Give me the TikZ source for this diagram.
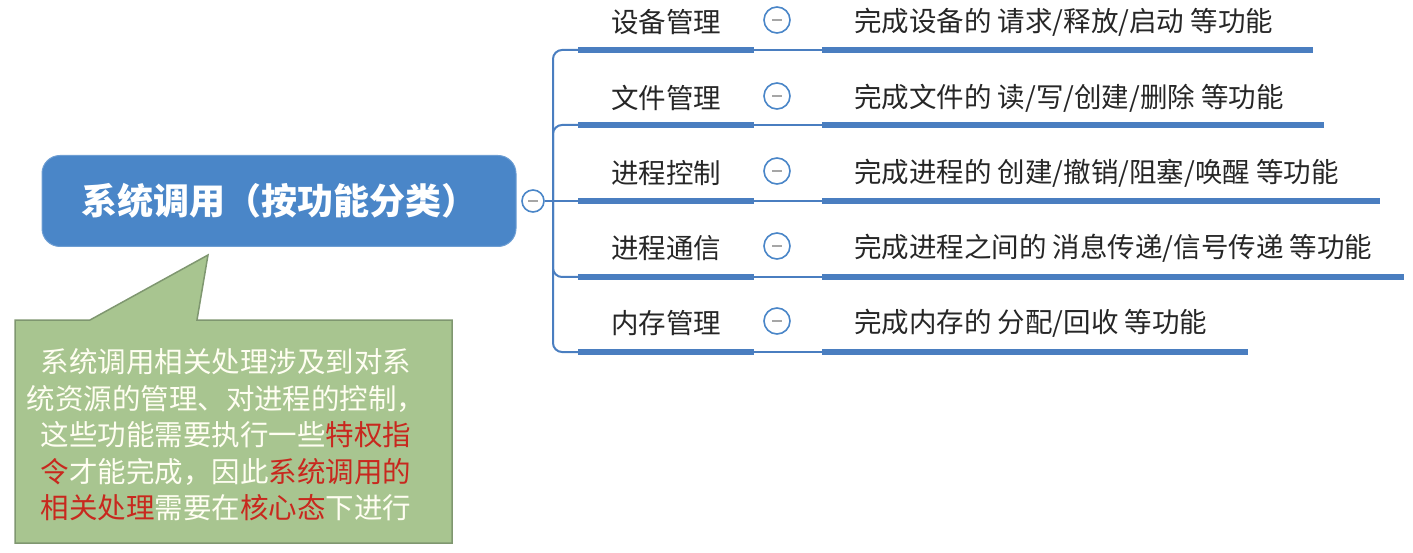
\documentclass[tikz,border=0pt]{standalone}
\usepackage{fontspec}
\usepackage{tikz}
\newfontfamily\cjk{Noto Sans CJK SC}
\definecolor{mapblue}{HTML}{4A86C8}
\definecolor{linkblue}{HTML}{4A7EC0}
\definecolor{notegreen}{HTML}{A8C590}
\definecolor{noteedge}{HTML}{7F9770}
\definecolor{notered}{HTML}{C8281E}
\newcommand{\hot}[1]{\textcolor{notered}{#1}}

\begin{document}
\begin{tikzpicture}[x=1pt,y=-1pt]
\tikzstyle{root}=[draw=mapblue!80!white, line width=1pt, fill=mapblue, rounded corners=18pt, minimum width=474pt, minimum height=91pt, text=white, font=\cjk\bfseries\fontsize{36}{40}\selectfont]
\tikzstyle{fold}=[circle, draw=mapblue, line width=1.6pt, fill=white, inner sep=0pt, minimum size=26pt, path picture={\draw[gray!70, line width=1.8pt] ([xshift=-5pt]path picture bounding box.center) -- ([xshift=5pt]path picture bounding box.center);}]
\tikzstyle{topic}=[anchor=west, inner sep=0pt, text=black!85, font=\cjk\fontsize{27.5}{30}\selectfont]
\tikzstyle{branch}=[draw=linkblue, line width=2pt]
\tikzstyle{underline}=[draw=linkblue, line width=6pt]
\useasboundingbox (0,0) rectangle (1413,553);

% root and its fold button
\node[root] (sys) at (279,201) {系统调用（按功能分类）};
\node[fold, minimum size=22pt] (sysfold) at (533,201) {};
\coordinate (hub) at (553,201);

% branch lines
\coordinate (b1) at (578,50);  \coordinate (k1) at (754,50);  \coordinate (s1) at (822,50);  \coordinate (e1) at (1313,50);
\coordinate (b2) at (578,125); \coordinate (k2) at (754,125); \coordinate (s2) at (822,125); \coordinate (e2) at (1324,125);
\coordinate (b3) at (578,201); \coordinate (k3) at (754,201); \coordinate (s3) at (822,201); \coordinate (e3) at (1380,201);
\coordinate (b4) at (578,277); \coordinate (k4) at (754,277); \coordinate (s4) at (822,277); \coordinate (e4) at (1404,277);
\coordinate (b5) at (578,352); \coordinate (k5) at (754,352); \coordinate (s5) at (822,352); \coordinate (e5) at (1248,352);

\draw[branch] (sysfold) -- (hub);
\draw[branch, rounded corners=9pt] (hub) |- (b1);
\draw[branch, rounded corners=9pt] (hub) |- (b2);
\draw[branch] (hub) -- (b3);
\draw[branch, rounded corners=9pt] (hub) |- (b4);
\draw[branch, rounded corners=9pt] (hub) |- (b5);

\draw[underline] (b1) -- (k1); \draw[branch] (k1) -- (s1); \draw[underline] (s1) -- (e1);
\draw[underline] (b2) -- (k2); \draw[branch] (k2) -- (s2); \draw[underline] (s2) -- (e2);
\draw[underline] (b3) -- (k3); \draw[branch] (k3) -- (s3); \draw[underline] (s3) -- (e3);
\draw[underline] (b4) -- (k4); \draw[branch] (k4) -- (s4); \draw[underline] (s4) -- (e4);
\draw[underline] (b5) -- (k5); \draw[branch] (k5) -- (s5); \draw[underline] (s5) -- (e5);

% topics
\node[topic] (dev) at (611,22) {设备管理};
\node[topic] (file) at (611,98) {文件管理};
\node[topic] (ctrl) at (611,173) {进程控制};
\node[topic] (comm) at (611,248) {进程通信};
\node[topic] (mem) at (611,323) {内存管理};

\node[fold] (devfold) at (777,20) {};
\node[fold] (filefold) at (777,96) {};
\node[fold] (ctrlfold) at (777,171) {};
\node[fold] (commfold) at (777,246) {};
\node[fold] (memfold) at (777,321) {};

\node[topic] (devtxt) at (854,22) {完成设备的 请求/释放/启动 等功能};
\node[topic] (filetxt) at (854,98) {完成文件的 读/写/创建/删除 等功能};
\node[topic] (ctrltxt) at (854,173) {完成进程的 创建/撤销/阻塞/唤醒 等功能};
\node[topic] (commtxt) at (854,248) {完成进程之间的 消息传递/信号传递 等功能};
\node[topic] (memtxt) at (854,323) {完成内存的 分配/回收 等功能};

% callout
\draw[fill=notegreen, draw=noteedge, line width=1.5pt] (15,320) -- (90,320) -- (208,255) -- (197,320) -- (452,320) -- (452,543) -- (15,543) -- cycle;
\node[align=center, text=white!95!yellow, font=\cjk\fontsize{28.5}{36.5}\selectfont] (note) at (226,435)
  {系统调用相关处理涉及到对系\\统资源的管理、对进程的控制，\\这些功能需要执行一些\hot{特权指}\\\hot{令}才能完成，因此\hot{系统调用的}\\\hot{相关处理}需要在\hot{核心态}下进行};
\end{tikzpicture}
\end{document}
